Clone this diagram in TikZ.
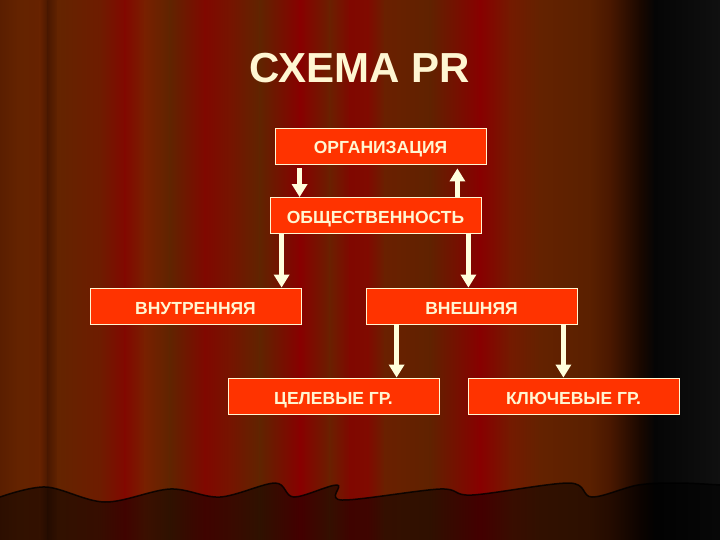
\documentclass[tikz,border=0pt]{standalone}
\usepackage{fontspec}
\setmainfont{Liberation Sans}
\usepackage{tikz}
\usetikzlibrary{arrows.meta}
\definecolor{PRorange}{HTML}{FF3300}
\definecolor{PRcream}{HTML}{FFF6D2}
\definecolor{PRarrow}{HTML}{FFFFDC}

\begin{document}
\begin{tikzpicture}[x=1pt, y=-1pt,
    prbox/.style={draw=PRcream, line width=0.8pt, fill=PRorange,
      minimum width=211pt, minimum height=36pt, inner sep=0pt,
      text height=16pt, text depth=0pt,
      text=PRcream, font=\fontsize{17.5}{20}\selectfont\bfseries},
    prarrow/.style={draw=PRarrow, line width=5pt,
      -{Triangle[width=15pt,length=13pt]}}]
    \useasboundingbox (0,0) rectangle (720,540);

    % Curtain
    \foreach \x/\c [remember=\x as \px (initially 0), remember=\c as \pc (initially 5A1E00)] in
      {18/642300, 40/662200, 48/4A1800, 58/642400, 100/6E1C00, 125/820800,
       145/782000, 170/602400, 205/800800, 230/761400, 260/602400, 300/880000,
       330/6A2000, 350/800800, 368/800A00, 385/6A2000, 430/602200, 480/880000,
       510/741A00, 540/642200, 590/5A2000, 610/4A1800, 640/1A0800, 655/050505,
       720/101010}{
      \definecolor{lc}{HTML}{\pc}
      \definecolor{rc}{HTML}{\c}
      \shade[left color=lc, right color=rc] (\px-0.3,0) rectangle (\x+0.3,540);
    }

    % Hem
    \fill[black, opacity=0.5] plot[smooth, tension=0.55] coordinates {(0,497) (46,487) (105,502)
      (170,489) (220,497) (275,483) (294,497) (337,485) (342,500) (440,489) (472,495)
      (569,483) (592,497) (638,485) (679,483) (720,485)} -- (720,540) -- (0,540) -- cycle;
    \draw[black, line width=1.5pt, opacity=0.8] plot[smooth, tension=0.55] coordinates {(0,497)
      (46,487) (105,502) (170,489) (220,497) (275,483) (294,497) (337,485) (342,500)
      (440,489) (472,495) (569,483) (592,497) (638,485) (679,483) (720,485)};

    % Title
    \node[text=PRcream, font=\fontsize{42}{48}\selectfont\bfseries] (title) at (360,68) {СХЕМА PR};

    % Boxes
    \node[prbox] (org) at (380.5,146) {ОРГАНИЗАЦИЯ};
    \node[prbox] (pub) at (375.5,215.5) {ОБЩЕСТВЕННОСТЬ};
    \node[prbox] (int) at (195.5,306) {ВНУТРЕННЯЯ};
    \node[prbox] (ext) at (471.5,306) {ВНЕШНЯЯ};
    \node[prbox] (tgt) at (333.5,396) {ЦЕЛЕВЫЕ ГР.};
    \node[prbox] (key) at (573.5,396) {КЛЮЧЕВЫЕ ГР.};

    % Arrows
    \draw[prarrow] ([xshift=25pt,yshift=-4pt]org.south west) -- ([xshift=25pt]org.south west |- pub.north);
    \draw[prarrow] ([xshift=-29pt]org.south east |- pub.north) -- ([xshift=-29pt,yshift=-4pt]org.south east);
    \draw[prarrow] ([xshift=12pt]pub.south west) -- ([xshift=12pt]pub.south west |- int.north);
    \draw[prarrow] ([xshift=-13pt]pub.south east) -- ([xshift=-13pt]pub.south east |- ext.north);
    \draw[prarrow] ([xshift=31pt]ext.south west) -- ([xshift=31pt]ext.south west |- tgt.north);
    \draw[prarrow] ([xshift=-14pt]ext.south east) -- ([xshift=-14pt]ext.south east |- key.north);
\end{tikzpicture}
\end{document}
